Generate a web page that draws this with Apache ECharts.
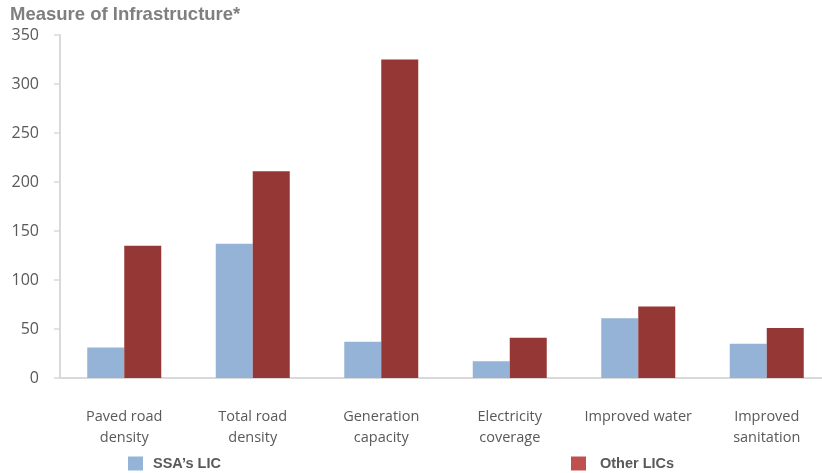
<!DOCTYPE html>
<html>
<head>
<meta charset="utf-8">
<script src="https://cdn.jsdelivr.net/npm/echarts@6/dist/echarts.min.js"></script>
<style>
html,body{margin:0;padding:0;background:#fff;}
#c{width:822px;height:473px;}
</style>
</head>
<body>
<div id="c"></div>
<script>
var categories = ['Paved road\ndensity', 'Total road\ndensity', 'Generation\ncapacity', 'Electricity\ncoverage', 'Improved water', 'Improved\nsanitation'];
var ssaLIC = [31, 137, 37, 17, 61, 35];
var otherLICs = [135, 211, 325, 41, 73, 51];
var yTicks = {min: 0, max: 350, interval: 50};

var chart = echarts.init(document.getElementById('c'), null, {renderer: 'canvas'});
chart.setOption({
  animation: false,
  backgroundColor: '#ffffff',
  title: {
    text: 'Measure of Infrastructure*',
    left: 10, top: 5, padding: 0,
    textStyle: {fontFamily: 'Liberation Sans, Arial', fontWeight: 'bold', fontSize: 18.5, color: '#7f7f7f'}
  },
  grid: {left: 60, right: -9, top: 35, bottom: 95, containLabel: false, outerBoundsMode: 'none'},
  legend: [
    {
      left: 128, top: 456, itemWidth: 15, itemHeight: 14, icon: 'rect',
      data: [{name: 'SSA\u2019s LIC', itemStyle: {color: '#95b3d7'}}],
      textStyle: {fontFamily: 'Liberation Sans, Arial', fontWeight: 'bold', fontSize: 14.5, color: '#595959', padding: [0, 0, 0, 5]},
      padding: 0
    },
    {
      left: 571, top: 456, itemWidth: 15, itemHeight: 14, icon: 'rect',
      data: [{name: 'Other LICs', itemStyle: {color: '#c0504d'}}],
      textStyle: {fontFamily: 'Liberation Sans, Arial', fontWeight: 'bold', fontSize: 14.5, color: '#595959', padding: [0, 0, 0, 9]},
      padding: 0
    }
  ],
  xAxis: {
    type: 'category',
    data: categories,
    axisLine: {lineStyle: {color: '#d9d9d9', width: 2}},
    axisTick: {show: false},
    axisLabel: {interval: 0, margin: 28, fontFamily: 'Open Sans', fontSize: 14.5, color: '#595959', lineHeight: 21}
  },
  yAxis: {
    type: 'value',
    min: yTicks.min, max: yTicks.max, interval: yTicks.interval,
    axisLine: {show: true, lineStyle: {color: '#d9d9d9', width: 2}},
    axisTick: {show: true, length: 6, lineStyle: {color: '#d9d9d9', width: 1.5}},
    splitLine: {show: false},
    axisLabel: {margin: 21, fontFamily: 'Open Sans', fontSize: 16, color: '#595959'}
  },
  series: [
    {name: 'SSA\u2019s LIC', type: 'bar', data: ssaLIC, barWidth: 37, barGap: '0%', itemStyle: {color: '#95b3d7'}},
    {name: 'Other LICs', type: 'bar', data: otherLICs, barWidth: 37, itemStyle: {color: '#953735'}}
  ]
});
</script>
</body>
</html>
